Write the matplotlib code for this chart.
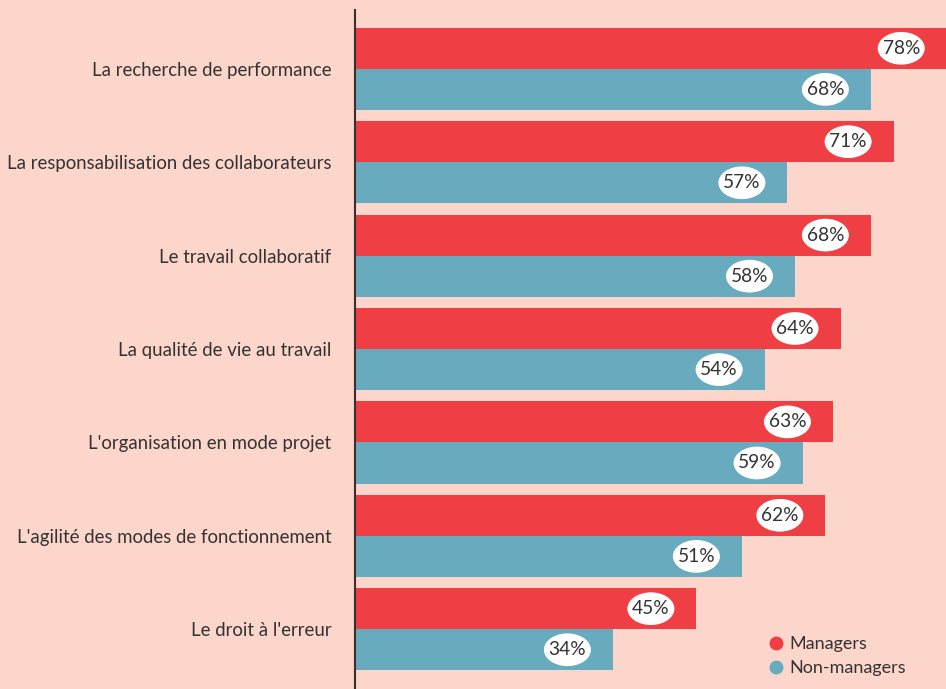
import matplotlib
matplotlib.use("Agg")
import matplotlib.pyplot as plt
from matplotlib.lines import Line2D
from matplotlib.patches import Ellipse

categories = ["La recherche de performance",
              "La responsabilisation des collaborateurs",
              "Le travail collaboratif",
              "La qualité de vie au travail",
              "L'organisation en mode projet",
              "L'agilité des modes de fonctionnement",
              "Le droit à l'erreur"]
managers = [78, 71, 68, 64, 63, 62, 45]
non_managers = [68, 57, 58, 54, 59, 51, 34]

bg = "#fcd5cb"
red = "#ef3e44"
teal = "#68abbf"
txt = "#333333"

plt.rcParams["font.family"] = ["Lato", "DejaVu Sans"]

fig = plt.figure(figsize=(9.46, 6.89), dpi=100, facecolor=bg)
ax = fig.add_axes([355 / 946, 0, 1 - 355 / 946, 1 - 10 / 689])
ax.set_facecolor(bg)

h = 0.44
ys = list(range(len(categories)))
ax.barh([y - h / 2 for y in ys], managers, height=h, color=red)
ax.barh([y + h / 2 for y in ys], non_managers, height=h, color=teal)

# white ellipse labels near the bar ends
for y, m, n in zip(ys, managers, non_managers):
    for v, yy in ((m, y - h / 2), (n, y + h / 2)):
        ax.add_patch(Ellipse((v - 6.0, yy), 6.2, 0.35, fc="white", ec="none", zorder=3))
        ax.text(v - 6.0, yy, f"{v}%", ha="center", va="center", fontsize=13.8,
                color=txt, zorder=4)

ax.set_xlim(0, 77.9)
ax.set_ylim(6.64, -0.63)
ax.set_yticks(ys)
ax.set_yticklabels(categories, fontsize=13.4, color=txt)
ax.tick_params(axis="y", length=0, pad=17)
ax.set_xticks([])
for s in ["top", "right", "bottom"]:
    ax.spines[s].set_visible(False)
ax.spines["left"].set_color("#3a2e2e")
ax.spines["left"].set_linewidth(1.5)

handles = [Line2D([], [], marker="o", ls="", color=red, markersize=9),
           Line2D([], [], marker="o", ls="", color=teal, markersize=9)]
ax.legend(handles, ["Managers", "Non-managers"], loc="lower right", frameon=False,
          fontsize=13, handletextpad=-0.3, labelspacing=0.45, labelcolor=txt,
          bbox_to_anchor=(0.944, 0.008), borderaxespad=0)

fig.savefig("out.png", facecolor=bg)
